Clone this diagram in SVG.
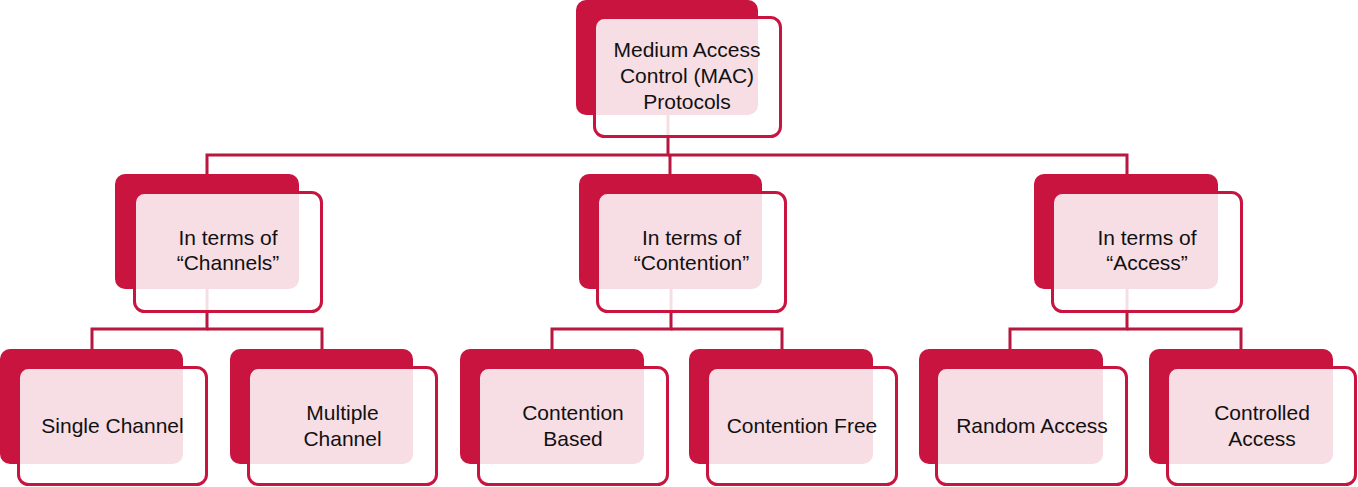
<svg xmlns="http://www.w3.org/2000/svg" width="1358" height="487" viewBox="0 0 1358 487">
<style>
.bk{fill:#C8143F;}
.fr{fill:#ffffff;fill-opacity:0.86;stroke:#C8143F;stroke-width:3;}
.cn{fill:none;stroke:#B8173F;stroke-width:3;}
.tx{font-family:"Liberation Sans",Arial,sans-serif;font-size:21px;fill:#111111;text-anchor:middle;}
</style>
<rect width="1358" height="487" fill="#ffffff"/>
<g id="connectors">
<path class="cn" d="M668 110 V155 H207 V176"/>
<path class="cn" d="M668 155 H1127 V176"/>
<path class="cn" d="M670 155 V176"/>
<path class="cn" d="M207 285 V329 H92 V351"/>
<path class="cn" d="M207 329 H322 V351"/>
<path class="cn" d="M671 285 V329 H552 V351"/>
<path class="cn" d="M671 329 H782 V351"/>
<path class="cn" d="M1127 285 V329 H1010 V351"/>
<path class="cn" d="M1127 329 H1241 V351"/>
</g>
<g id="mac">
<rect class="bk" x="576" y="0" width="182" height="115" rx="10"/>
<rect class="fr" x="594.5" y="17.5" width="186" height="119" rx="10"/>
<text class="tx" x="687" y="57">Medium Access</text>
<text class="tx" x="687" y="83">Control (MAC)</text>
<text class="tx" x="687" y="109">Protocols</text>
</g>
<g id="channels">
<rect class="bk" x="115" y="174" width="184" height="115" rx="10"/>
<rect class="fr" x="134.5" y="192.5" width="187" height="119" rx="10"/>
<text class="tx" x="228" y="245">In terms of</text>
<text class="tx" x="228" y="270">“Channels”</text>
</g>
<g id="contention">
<rect class="bk" x="579" y="174" width="183" height="115" rx="10"/>
<rect class="fr" x="597.5" y="192.5" width="188" height="119" rx="10"/>
<text class="tx" x="691.5" y="245">In terms of</text>
<text class="tx" x="691.5" y="270">“Contention”</text>
</g>
<g id="access">
<rect class="bk" x="1034" y="174" width="184" height="115" rx="10"/>
<rect class="fr" x="1052.5" y="192.5" width="189" height="119" rx="10"/>
<text class="tx" x="1147" y="245">In terms of</text>
<text class="tx" x="1147" y="270">“Access”</text>
</g>
<g id="single-channel">
<rect class="bk" x="0" y="349" width="183" height="115" rx="10"/>
<rect class="fr" x="18.5" y="367.5" width="188" height="117" rx="10"/>
<text class="tx" x="112.5" y="433">Single Channel</text>
</g>
<g id="multiple-channel">
<rect class="bk" x="230" y="349" width="183" height="115" rx="10"/>
<rect class="fr" x="248.5" y="367.5" width="188" height="117" rx="10"/>
<text class="tx" x="342.5" y="420">Multiple</text>
<text class="tx" x="342.5" y="446">Channel</text>
</g>
<g id="contention-based">
<rect class="bk" x="460" y="349" width="184" height="115" rx="10"/>
<rect class="fr" x="478.5" y="367.5" width="189" height="117" rx="10"/>
<text class="tx" x="573" y="420">Contention</text>
<text class="tx" x="573" y="446">Based</text>
</g>
<g id="contention-free">
<rect class="bk" x="689" y="349" width="184" height="115" rx="10"/>
<rect class="fr" x="707.5" y="367.5" width="189" height="117" rx="10"/>
<text class="tx" x="802" y="433">Contention Free</text>
</g>
<g id="random-access">
<rect class="bk" x="919" y="349" width="184" height="115" rx="10"/>
<rect class="fr" x="936.5" y="367.5" width="190" height="117" rx="10"/>
<text class="tx" x="1032" y="433">Random Access</text>
</g>
<g id="controlled-access">
<rect class="bk" x="1149" y="349" width="184" height="115" rx="10"/>
<rect class="fr" x="1167.5" y="367.5" width="188" height="117" rx="10"/>
<text class="tx" x="1262" y="420">Controlled</text>
<text class="tx" x="1262" y="446">Access</text>
</g>
</svg>
